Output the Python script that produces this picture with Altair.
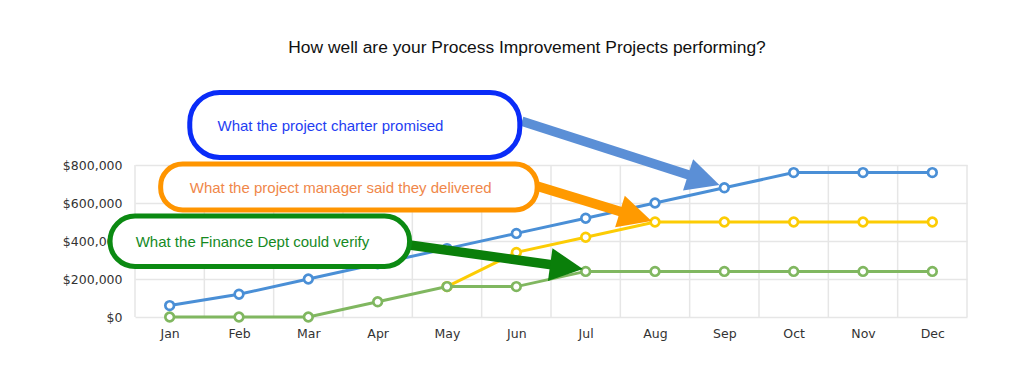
import json
import math
import altair as alt
import pandas as pd

# ---------------- data ----------------
months = ["Jan", "Feb", "Mar", "Apr", "May", "Jun", "Jul", "Aug", "Sep", "Oct", "Nov", "Dec"]
charter = [60000, 120000, 200000, 280000, 360000, 440000, 520000, 600000, 680000, 760000, 760000, 760000]
manager = [None, None, None, None, 160000, 340000, 420000, 500000, 500000, 500000, 500000, 500000]
finance = [0, 0, 0, 80000, 160000, 160000, 240000, 240000, 240000, 240000, 240000, 240000]
series_names = ["Project charter", "Project manager", "Finance Dept"]
series_colors = ["#4a8fd6", "#fccc04", "#80b760"]
y_ticks = [0, 200000, 400000, 600000, 800000]

title_text = "How well are your Process Improvement Projects performing?"

# callouts (month index, dollar value)
callout_texts = ["What the project charter promised",
                 "What the project manager said they delivered",
                 "What the Finance Dept could verify"]
callout_text_colors = ["#1f3ef2", "#f0874a", "#168a1f"]
callout_stroke_colors = ["#0a2cf8", "#ff9500", "#0b8a12"]
callout_arrow_colors = ["#5b8fd6", "#ff9a00", "#0a7f0a"]
box_x1 = [0.29, -0.13, -0.86]
box_x2 = [5.05, 5.30, 3.46]
box_y1 = [1182000, 805000, 531000]
box_y2 = [840000, 563000, 266000]
box_radius = [30, 22, 25]
text_x = [0.69, 0.29, -0.49]
text_y = [1005000, 679000, 395000]
arrow_x1 = [5.08, 5.30, 3.46]
arrow_y1 = [1030000, 689000, 379000]
arrow_x2 = [7.93, 6.95, 5.96]
arrow_y2 = [695000, 505000, 252000]

# ---------------- geometry ----------------
W, H = 832, 152
XDOM = [-0.5, 11.5]
YDOM = [0, 800000]


def px(v):
    return (v - XDOM[0]) / (XDOM[1] - XDOM[0]) * W


def py(v):
    return H - (v - YDOM[0]) / (YDOM[1] - YDOM[0]) * H


def inv_x(p):
    return p / W * (XDOM[1] - XDOM[0]) + XDOM[0]


def inv_y(p):
    return (H - p) / H * (YDOM[1] - YDOM[0]) + YDOM[0]


HEAD = 33  # arrow head length in px

rows = []
for i, name in enumerate(series_names):
    vals = [charter, manager, finance][i]
    for j, v in enumerate(vals):
        if v is not None:
            rows.append({"idx": j, "value": v, "series": name, "order": i})
df = pd.DataFrame(rows)

arrows = []
for k in range(3):
    x1, y1 = px(arrow_x1[k]), py(arrow_y1[k])
    x2, y2 = px(arrow_x2[k]), py(arrow_y2[k])
    ang = math.degrees(math.atan2(y2 - y1, x2 - x1))
    L = math.hypot(x2 - x1, y2 - y1)
    ex = x2 - (x2 - x1) / L * HEAD * 0.85
    ey = y2 - (y2 - y1) / L * HEAD * 0.85
    arrows.append({"x": arrow_x1[k], "y": arrow_y1[k],
                   "xe": inv_x(ex), "ye": inv_y(ey),
                   "xt": arrow_x2[k], "yt": arrow_y2[k],
                   "angle": ang % 360, "color": callout_arrow_colors[k]})
arrow_df = pd.DataFrame(arrows)

xs = alt.Scale(domain=XDOM, nice=False, zero=False)
ys = alt.Scale(domain=YDOM, nice=False, zero=False)

label_expr = json.dumps(months) + "[datum.value]"

x_axis = alt.Axis(values=list(range(12)), labelExpr=label_expr, grid=False, ticks=False,
                  tickSize=0, domain=False, title=None, labelPadding=10, labelOverlap=False,
                  labelFont="DejaVu Sans", labelFontSize=12.5, labelColor="#333333")
y_axis = alt.Axis(values=y_ticks, format="$,.0f", grid=True, gridColor="#e6e6e6",
                  gridWidth=1.5, ticks=False, tickSize=0, domain=False, title=None,
                  labelPadding=13, labelOverlap=False, labelFont="DejaVu Sans",
                  labelFontSize=12.5, labelColor="#333333")

base = alt.Chart(df)

vgrid = alt.Chart(pd.DataFrame({"g": [i - 0.5 for i in range(13)]})).mark_rule(
    color="#e6e6e6", strokeWidth=1.5).encode(x=alt.X("g:Q", scale=xs, axis=x_axis))

color_enc = alt.Color("series:N", scale=alt.Scale(domain=series_names, range=series_colors),
                      legend=None)

# draw series in a specific z-order: manager, finance, charter
layers_lines = []
for name in ["Project manager", "Finance Dept", "Project charter"]:
    sub = base.transform_filter(alt.datum.series == name)
    layers_lines.append(sub.mark_line(strokeWidth=3).encode(
        x=alt.X("idx:Q", scale=xs, axis=x_axis),
        y=alt.Y("value:Q", scale=ys, axis=y_axis),
        color=color_enc))
    layers_lines.append(sub.mark_point(filled=True, fill="white", size=75, strokeWidth=2.7,
                                       opacity=1).encode(
        x=alt.X("idx:Q", scale=xs, axis=x_axis),
        y=alt.Y("value:Q", scale=ys, axis=y_axis),
        stroke=alt.Stroke("series:N", scale=alt.Scale(domain=series_names, range=series_colors),
                          legend=None)))

shafts = alt.Chart(arrow_df).mark_rule(strokeWidth=9.5, strokeCap="butt").encode(
    x=alt.X("x:Q", scale=xs, axis=x_axis), y=alt.Y("y:Q", scale=ys, axis=y_axis),
    x2="xe:Q", y2="ye:Q",
    color=alt.Color("color:N", scale=None))

heads = alt.Chart(arrow_df).mark_point(shape="M0,0L-2,-1L-2,1Z", filled=True, opacity=1,
                                       size=HEAD * HEAD, strokeWidth=0).encode(
    x=alt.X("xt:Q", scale=xs, axis=x_axis), y=alt.Y("yt:Q", scale=ys, axis=y_axis),
    angle=alt.Angle("angle:Q", scale=None),
    color=alt.Color("color:N", scale=None))

boxes = []
for k in range(3):
    bdf = pd.DataFrame({"x1": [box_x1[k]], "x2": [box_x2[k]], "y1": [box_y1[k]], "y2": [box_y2[k]]})
    boxes.append(alt.Chart(bdf).mark_rect(cornerRadius=box_radius[k], fill="white",
                                          stroke=callout_stroke_colors[k], strokeWidth=5).encode(
        x=alt.X("x1:Q", scale=xs, axis=x_axis), x2="x2:Q",
        y=alt.Y("y1:Q", scale=ys, axis=y_axis), y2="y2:Q"))

tdf = pd.DataFrame({"x": text_x, "y": text_y, "t": callout_texts, "c": callout_text_colors})
texts = alt.Chart(tdf).mark_text(align="left", baseline="middle", font="Liberation Sans",
                                 fontSize=15).encode(
    x=alt.X("x:Q", scale=xs, axis=x_axis), y=alt.Y("y:Q", scale=ys, axis=y_axis), text="t:N",
    color=alt.Color("c:N", scale=None))

chart = alt.layer(vgrid, *layers_lines, shafts, heads, *boxes, texts).properties(
    width=W, height=H,
    title=alt.TitleParams(title_text, font="Liberation Sans", fontSize=17.4, fontWeight="normal",
                          color="#111111", anchor="middle", offset=34, dx=-24),
    autosize=alt.AutoSizeParams(type="none"),
    padding={"left": 127, "top": 157, "right": 40, "bottom": 40},
    background="white",
).configure_view(stroke=None)

chart.save("out.html", embed_options={"renderer": "svg", "actions": False})
